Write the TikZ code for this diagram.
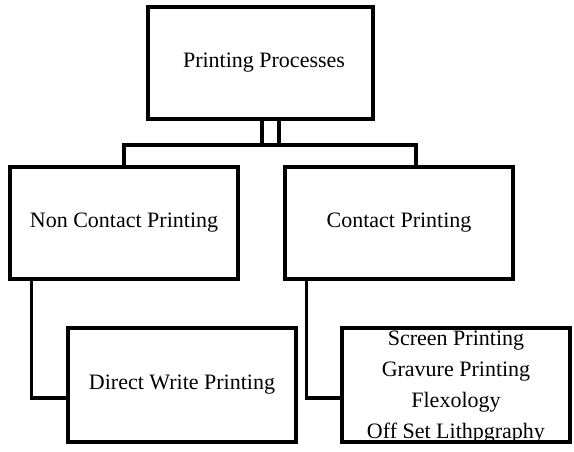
\documentclass[tikz,border=0pt]{standalone}
\usepackage{fontspec}
\setmainfont{Liberation Serif}
\usepackage{tikz}
\usetikzlibrary{positioning,calc}
\tikzset{
  procbox/.style={draw, line width=3.2pt, minimum width=225pt, minimum height=112pt, inner sep=0pt},
  link/.style={line width=3.2pt},
  boxtext/.style={font=\fontsize{22}{31}\selectfont, align=center, inner sep=0pt}
}

\begin{document}
\begin{tikzpicture}[x=1pt, y=-1pt]
    \useasboundingbox (0,0) rectangle (574,452);
    \node[procbox, minimum width=225pt] (top) at (260.5,63) {};
    \node[boxtext] (toptxt) at (264,63) {Printing Processes};
    \node[procbox, minimum width=228pt] (noncon) at (124,223) {};
    \node[boxtext] (noncontxt) at (124,223) {Non Contact Printing};
    \node[procbox, minimum width=228pt] (con) at (399,223) {};
    \node[boxtext] (contxt) at (399,223) {Contact Printing};
    \node[procbox, minimum width=228pt, minimum height=114pt] (direct) at (182,385) {};
    \node[boxtext] (directtxt) at (182,385) {Direct Write Printing};
    \node[procbox, minimum width=228pt, minimum height=114pt] (list) at (456,385) {};
    \node[boxtext] (listtxt) at (456,387) {Screen Printing\\Gravure Printing\\Flexology\\Off Set Lithpgraphy};
    % branches from the top box
    \coordinate (bar) at (0,145);
    \coordinate (stemA) at ($(top.south)+(1.5,0)$);
    \coordinate (stemB) at ($(top.south)+(18.5,0)$);
    \draw[link] (stemA) -- (stemA |- bar);
    \draw[link] (stemB) -- (stemB |- bar);
    \draw[link] (noncon.north) |- (bar -| 416,0) -- ($(con.north)+(17,0)$);
    % sub branches
    \draw[link] ($(noncon.south west)+(23,0)$) |- ($(direct.west)+(0,13)$);
    \draw[link] ($(con.south west)+(23,0)$) |- ($(list.west)+(0,13)$);
\end{tikzpicture}
\end{document}
